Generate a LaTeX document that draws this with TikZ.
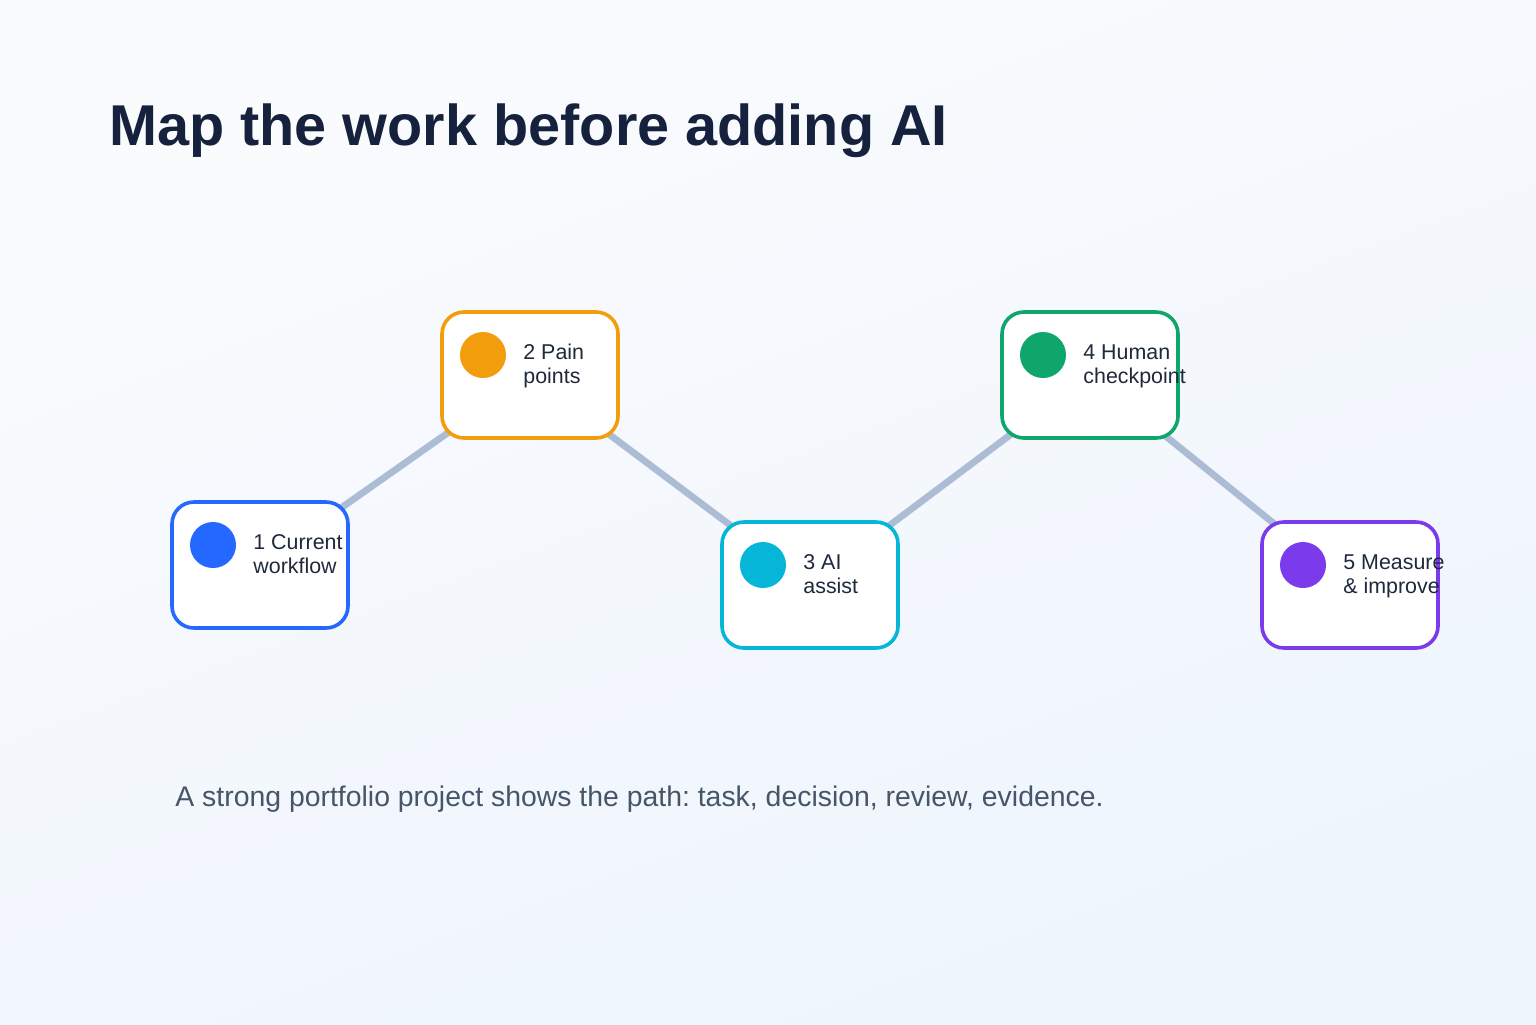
\documentclass[tikz,border=0pt]{standalone}
\usepackage{fontspec}
\setmainfont{Liberation Sans}
\usepackage{xcolor}
\usepackage{tikz}
\usetikzlibrary{positioning,calc}
\frenchspacing
\definecolor{mnavy}{HTML}{15213D}
\definecolor{mink}{HTML}{1E293B}
\definecolor{mslate}{HTML}{475569}
\definecolor{mlink}{HTML}{ABBCD4}
\definecolor{mblue}{HTML}{2468FF}
\definecolor{morange}{HTML}{F29E0C}
\definecolor{mcyan}{HTML}{06B6D6}
\definecolor{mgreen}{HTML}{0EA66B}
\definecolor{mviolet}{HTML}{7C3AED}
\definecolor{mbgtop}{HTML}{FAFBFD}
\definecolor{mbgbot}{HTML}{EEF5FD}
\pgfdeclarelayer{back}
\pgfdeclarelayer{links}
\pgfsetlayers{back,links,main}
\tikzset{
  mstep/.style={rectangle, rounded corners=11pt, draw=#1, fill=white,
                line width=1.8pt, minimum width=88pt, minimum height=63pt,
                inner sep=0pt, outer sep=0pt},
  mdot/.style={circle, fill=#1, minimum size=23pt, inner sep=0pt},
  mtext/.style={anchor=north west, inner sep=0pt, align=left, text=mink,
                font=\fontsize{10.7}{12}\selectfont},
  mlinkline/.style={mlink, line width=3.4pt},
  mtitle/.style={anchor=base west, inner sep=0pt, text=mnavy,
                 font=\fontsize{28.8}{34}\selectfont\bfseries},
  mcaption/.style={anchor=base west, inner sep=0pt, text=mslate,
                   font=\fontsize{14.2}{17}\selectfont},
}

\begin{document}
\begin{tikzpicture}[x=0.5pt,y=-0.5pt]

  % fundo
  \begin{pgfonlayer}{back}
    \shade[top color=mbgtop, bottom color=mbgbot, shading angle=20]
      (0,0) rectangle (1536,1024);
  \end{pgfonlayer}
  \useasboundingbox (0,0) rectangle (1536,1024);

  \node[mtitle] (title) at (109,145) {Map the work before adding AI};

  % etapas
  \node[mstep=mblue]   (s1) at (260,565)  {};
  \node[mstep=morange] (s2) at (530,375)  {};
  \node[mstep=mcyan]   (s3) at (810,585)  {};
  \node[mstep=mgreen]  (s4) at (1090,375) {};
  \node[mstep=mviolet] (s5) at (1350,585) {};

  \node[mdot=mblue]   (d1) at ([shift={(41,43)}]s1.north west) {};
  \node[mdot=morange] (d2) at ([shift={(41,43)}]s2.north west) {};
  \node[mdot=mcyan]   (d3) at ([shift={(41,43)}]s3.north west) {};
  \node[mdot=mgreen]  (d4) at ([shift={(41,43)}]s4.north west) {};
  \node[mdot=mviolet] (d5) at ([shift={(41,43)}]s5.north west) {};

  \node[mtext] (t1) at ([shift={(81,32)}]s1.north west) {1 Current\\workflow};
  \node[mtext] (t2) at ([shift={(81,32)}]s2.north west) {2 Pain\\points};
  \node[mtext] (t3) at ([shift={(81,32)}]s3.north west) {3 AI\\assist};
  \node[mtext] (t4) at ([shift={(81,32)}]s4.north west) {4 Human\\checkpoint};
  \node[mtext] (t5) at ([shift={(81,32)}]s5.north west) {5 Measure\\\& improve};

  % ligações por trás das caixas
  \begin{pgfonlayer}{links}
    \draw[mlinkline] (s1.center) -- (s2.center) -- (s3.center)
                     -- (s4.center) -- (s5.center);
  \end{pgfonlayer}

  \node[mcaption] (caption) at (175,806)
    {A strong portfolio project shows the path: task, decision, review, evidence.};

\end{tikzpicture}
\end{document}
